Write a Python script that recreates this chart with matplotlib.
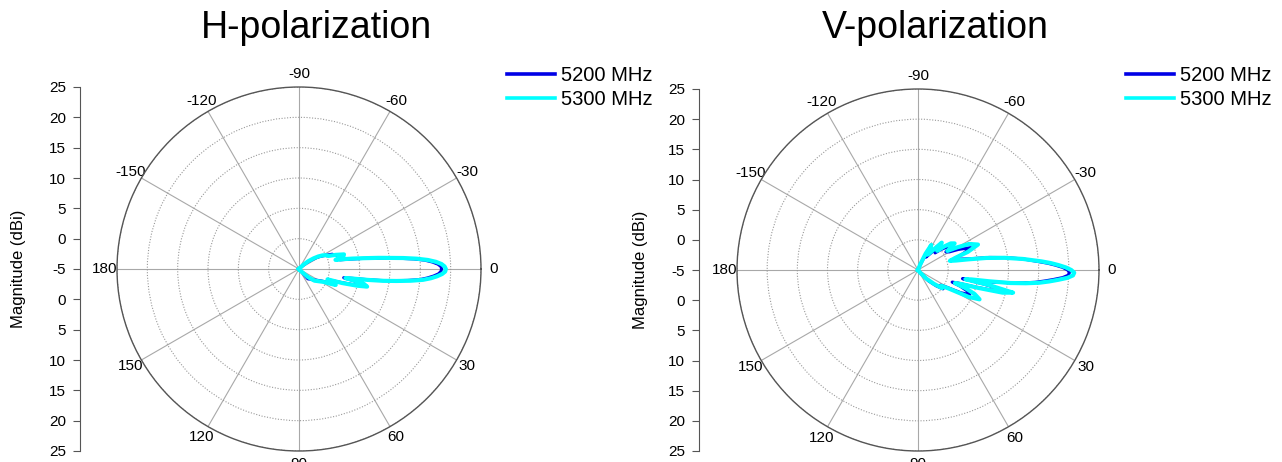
import numpy as np
import matplotlib.pyplot as plt

plt.rcParams['font.family'] = ['Liberation Sans', 'DejaVu Sans']

# angles in degrees, gains in dBi
theta_h = [-180, -60, -48, -44, -40, -36, -33, -30, -27, -24, -21, -18, -16, -14,
           -12.5, -11, -9.5, -8, -7, -6, -5, -4, -3, -2, -1, 0, 1, 2, 3, 4, 5, 6,
           7, 8, 9, 10, 11, 12, 13, 14.5, 16, 18, 20, 22, 23.5, 25, 28, 32, 37, 42,
           48, 60, 180]
h_5200 = [-5, -5, -5, -4.5, -3.5, -2.5, -1.5, -0.8, 0, 1.0, 1.2, 2.5, 2.2, 1.5,
          2.0, 3.5, 5.5, 7.8, 9.6, 11.8, 14.0, 15.8, 17.0, 17.9, 18.4, 18.5, 18.4,
          18.0, 17.2, 16.2, 15.0, 13.0, 10.8, 8.6, 6.0, 3.8, 2.5, 4.0, 5.5, 6.2,
          4.5, 2.0, 0.3, 1.2, 1.2, 0.3, -0.8, -1.5, -2.0, -2.5, -2.8, -5, -5]
h_5300 = [-5, -5, -5, -4, -3, -2, -1.2, -0.5, 0, 0.3, 1.5, 2.8, 2.6, 1.2,
          2.5, 4.0, 5.8, 8.2, 10.0, 12.3, 14.5, 16.3, 17.6, 18.5, 19.0, 19.2, 19.1,
          18.6, 17.8, 16.8, 15.5, 13.5, 11.2, 9.0, 6.5, 4.2, 2.8, 4.5, 6.0, 6.6,
          5.0, 2.5, 0.0, 1.0, 1.6, 0.8, -0.5, -1.2, -1.8, -3, -4.5, -5, -5]

theta_v = [-180, -75, -68, -65, -62, -58, -55, -52, -49, -45, -42, -39, -36, -33,
           -30, -27, -23, -20, -18, -16, -14, -12, -10, -8, -6, -4, -3, -2, -1, 0,
           1, 2, 3, 4, 5, 6, 7, 8, 9, 10, 11, 12, 13.4, 15, 16.5, 18, 19.5, 21, 23,
           25.5, 28, 31, 34, 37, 41, 46, 52, 60, 180]
v_5200 = [-5, -5, -4.5, -3, -1.2, -2.5, -2, -1.2, 0, -1, 0, 1.0, 1.5, 0.5,
          1.0, 2.5, 4.5, 3.0, 1.8, 1.5, 2.5, 4.0, 7.0, 9.8, 12.5, 15.0, 16.5, 17.8,
          19.0, 19.8, 20.1, 19.9, 19.0, 17.5, 16.0, 14.5, 12.5, 10.0, 8.0, 6.0, 2.5,
          6.0, 10.1, 8.5, 5.0, 2.0, 1.0, 2.5, 3.8, 4.5, 3.0, 0.5, -0.5, 0.2, -1.0,
          -2.5, -4.5, -5, -5]
v_5300 = [-5, -5, -4, -2, -0.3, -2, -1.5, -0.5, 1.0, -0.5, 0.8, 2.0, 2.5, 0.8,
          2.5, 4.5, 5.8, 3.8, 1.5, 0.5, 1.5, 3.5, 6.5, 9.5, 12.5, 15.5, 17.0, 18.3,
          19.5, 20.4, 20.9, 20.7, 19.8, 18.3, 16.8, 15.2, 13.0, 10.5, 7.0, 4.0, 3.0,
          7.0, 11.2, 9.5, 5.5, 2.5, 1.5, 3.5, 5.2, 6.3, 4.5, 1.0, -0.3, 0.0, -1.5,
          -3, -4.5, -5, -5]

labels = ['5200 MHz', '5300 MHz']
colors = ['#0000e6', '#00ffff']
angle_ticks = [0, 30, 60, 90, 120, 150, 180, 210, 240, 270, 300, 330]
angle_labels = ['0', '30', '60', '90', '120', '150', '180', '-150', '-120', '-90', '-60', '-30']
db_ticks = np.arange(-30, 31, 5)

W, H = 1282, 462
fig = plt.figure(figsize=(W / 100, H / 100), dpi=100)


def panel(cx, cy, rad, axis_x, label_x, title, title_x, legend_x, theta, g1, g2):
    x0 = (cx - rad) / W
    y0 = (H - cy - rad) / H
    ax = fig.add_axes([x0, y0, 2 * rad / W, 2 * rad / H], projection='polar')
    ax.set_theta_zero_location('E')
    ax.set_theta_direction(-1)
    th = np.deg2rad(theta)
    for g, c, lab, lw in zip([g1, g2], colors, labels, [2.2, 3.0]):
        ax.plot(th, np.clip(g, -5, 25), color=c, lw=lw, label=lab, solid_joinstyle='round')
    ax.set_rlim(-5, 25)
    ax.set_rticks([0, 5, 10, 15, 20, 25])
    ax.set_yticklabels([])
    ax.set_xticks(np.deg2rad(angle_ticks))
    ax.set_xticklabels(angle_labels, fontsize=11)
    ax.set_xticks(np.deg2rad(np.arange(15, 360, 30)), minor=True)
    ax.tick_params(axis='x', which='minor', length=4, direction='in', color='#666666')
    ax.tick_params(axis='x', which='major', length=0, pad=2)
    ax.xaxis.grid(True, color='#a8a8a8', lw=0.8, ls='-')
    ax.yaxis.grid(True, color='#999999', lw=0.8, ls=(0, (1, 1.5)))
    ax.spines['polar'].set_color('#555555')
    ax.spines['polar'].set_linewidth(1.0)
    leg = ax.legend(loc='upper left', bbox_to_anchor=(legend_x / W, 1 - 56 / H),
                    bbox_transform=fig.transFigure, frameon=False, fontsize=14.5,
                    handlelength=2.4, handletextpad=0.3, labelspacing=0.25, borderpad=0)
    for line in leg.get_lines():
        line.set_linewidth(2.6)

    # separate magnitude scale on the left
    sx = fig.add_axes([axis_x / W, y0, 0.0005, 2 * rad / H])
    sx.set_ylim(-30, 30)
    sx.set_yticks(db_ticks)
    sx.set_yticklabels([str(abs(v) - 5) for v in db_ticks], fontsize=11)
    sx.set_xticks([])
    for s in ['top', 'right', 'bottom']:
        sx.spines[s].set_visible(False)
    sx.spines['left'].set_color('#555555')
    sx.tick_params(axis='y', length=5, color='#555555', pad=5)
    fig.text(label_x / W, 1 - cy / H, 'Magnitude (dBi)', rotation=90,
             fontsize=12, ha='center', va='center')
    fig.text(title_x / W, 1 - 28 / H, title, fontsize=27, ha='center', va='center')


panel(299, 269, 182, 80, 19, 'H-polarization', 316, 497, theta_h, h_5200, h_5300)
panel(918, 270, 181, 699, 640, 'V-polarization', 935, 1116, theta_v, v_5200, v_5300)

fig.savefig('out.png', dpi=100)
